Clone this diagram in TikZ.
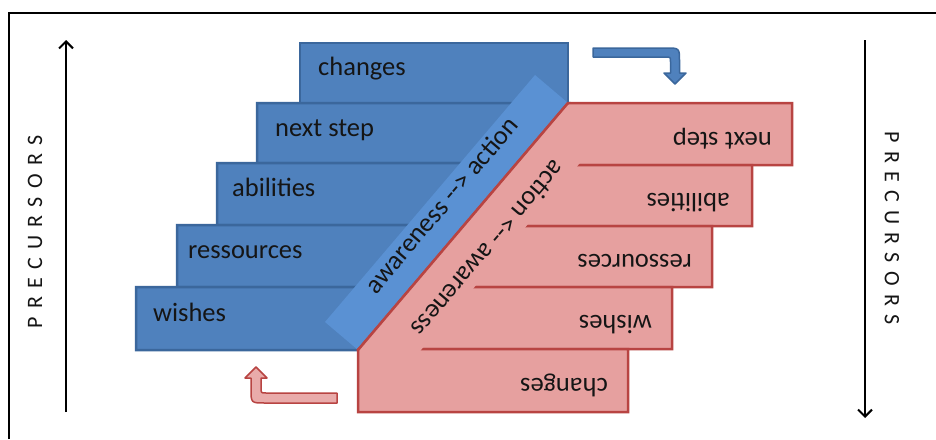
\documentclass[tikz,border=0pt]{standalone}
\usepackage{fontspec}
\setmainfont{Carlito}
\usetikzlibrary{arrows.meta}
\definecolor{bfill}{HTML}{4F81BD}
\definecolor{bline}{HTML}{3B679C}
\definecolor{bband}{HTML}{5A91D3}
\definecolor{rfill}{HTML}{E6A09F}
\definecolor{rfill2}{HTML}{E9ABAA}
\definecolor{rline}{HTML}{B84442}
\definecolor{txt}{HTML}{151515}
\begin{document}
\begin{tikzpicture}[x=1pt,y=-1pt,
  bbox/.style={fill=bfill,draw=bline,line width=2.5pt},
  rbox/.style={fill=rfill,draw=rline,line width=2.5pt},
  lab/.style={font=\fontsize{26.5}{30}\selectfont, text=txt, inner sep=0pt, text height=0.7em, text depth=0.2em, anchor=west},
  rlab/.style={lab, rotate=180},
  bandlab/.style={font=\fontsize{26.5}{30}\selectfont, text=txt, inner sep=0pt, text height=0.7em, text depth=0.2em},
  prec/.style={font=\fontsize{22}{24}\selectfont\addfontfeature{LetterSpace=38}, text=txt, inner sep=0pt},
  vline/.style={line width=2pt, -{Straight Barb[length=7pt,width=14pt]}},
  blockb/.style={fill=bfill, draw=bline, line width=1.5pt, line join=round},
  blockr/.style={fill=rfill2, draw=rline, line width=1.5pt, line join=round}]
\fill[white] (0,0) rectangle (936,439);
\useasboundingbox (0,0) rectangle (936,439);
% frame
\draw[line width=2pt] (9,439) -- (9,13) -- (936,13);

% blue staircase
\draw[bbox] (300,43) -- (568,43) -- (568,103) -- (300,103) -- cycle;
\draw[bbox] (257,103) -- (568,103) -- (517,163) -- (257,163) -- cycle;
\draw[bbox] (217,163) -- (517,163) -- (464.3,225) -- (217,225) -- cycle;
\draw[bbox] (177,225) -- (464.3,225) -- (411.6,287) -- (177,287) -- cycle;
\draw[bbox] (136,287) -- (411.6,287) -- (358,350) -- (136,350) -- cycle;
% blue band
\fill[bband] (568,103) -- (358,350) -- (325,322) -- (535,75) -- cycle;

% red staircase
\draw[rbox] (568,103) -- (792,103) -- (792,165) -- (515.3,165) -- cycle;
\draw[rbox] (515.3,165) -- (752,165) -- (752,226) -- (463.4,226) -- cycle;
\draw[rbox] (463.4,226) -- (712,226) -- (712,287) -- (411.6,287) -- cycle;
\draw[rbox] (411.6,287) -- (672,287) -- (672,349) -- (358.8,349) -- cycle;
\draw[rbox] (358.8,349) -- (628,349) -- (628,412) -- (358,412) -- (358,350) -- cycle;
% red band
\fill[rfill] (568,104.5) -- (359,350) -- (394.6,381) -- (604.6,134) -- cycle;
\draw[rline, line width=2.5pt] (568,103) -- (358,350);

% labels blue
\node[lab] (b1) at (318,73) {changes};
\node[lab] (b2) at (275,133.5) {next step};
\node[lab] (b3) at (232,194) {abilities};
\node[lab] (b4) at (188,256) {ressources};
\node[lab] (b5) at (153,318.5) {wishes};
% labels red
\node[rlab] (r1) at (772,134.5) {next step};
\node[rlab] (r2) at (730,195.5) {abilities};
\node[rlab] (r3) at (692,256.5) {ressources};
\node[rlab] (r4) at (652,318) {wishes};
\node[rlab] (r5) at (608,380.5) {changes};
% band labels
\node[bandlab, rotate=49.6] (ba) at (446,209) {awareness -{}-{}> action};
\node[bandlab, rotate=229.6] (bb) at (484,245) {action <-{}- awareness};

% precursors
\node[prec, rotate=90] (pl) at (35,232) {PRECURSORS};
\node[prec, rotate=-90] (pr) at (892,228) {PRECURSORS};
\coordinate (l1) at (66,412);
\coordinate (l2) at (66,40);
\coordinate (r1a) at (865,40);
\coordinate (r2a) at (865,418);
\draw[vline] (l1) -- (l2);
\draw[vline] (r1a) -- (r2a);

% block arrows
\draw[blockb] (593,48) -- (666,48) .. controls (679.5,48) .. (679.5,61.5) -- (679.5,73) -- (686,73) -- (675,84) -- (664,73) -- (670.5,73) -- (670.5,62) .. controls (670.5,57) .. (665.5,57) -- (593,57) -- cycle;
\draw[blockr] (337,393) -- (266,393) .. controls (261,393) .. (261,388) -- (261,378) -- (267,378) -- (256,367) -- (245,378) -- (251,378) -- (251,389) .. controls (251,403) .. (265,403) -- (337,403) -- cycle;
\end{tikzpicture}
\end{document}
